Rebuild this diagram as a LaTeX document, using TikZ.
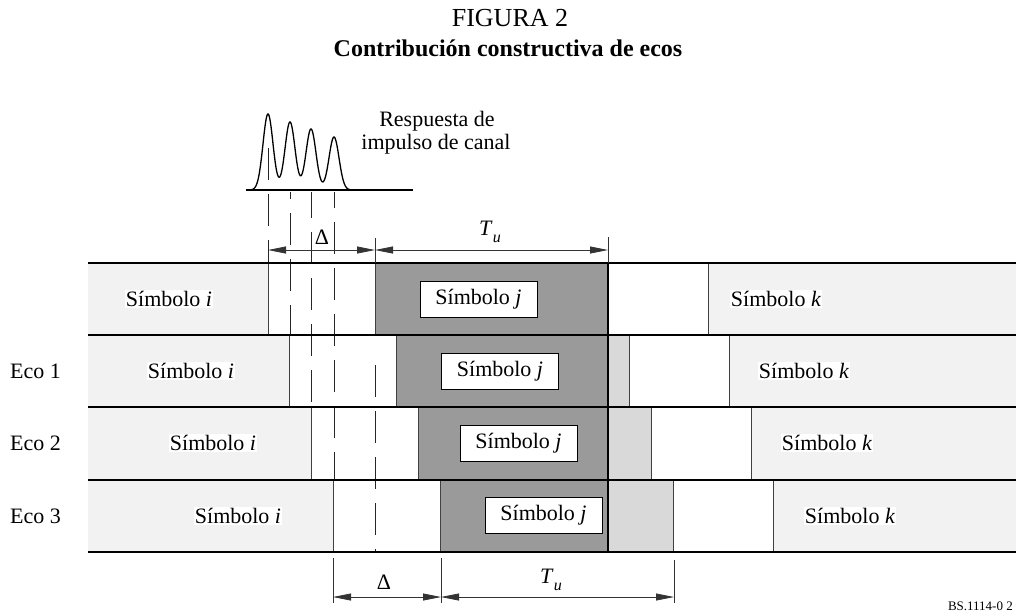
\documentclass[tikz,border=0pt]{standalone}
\usepackage{fontspec}
\setmainfont{Liberation Serif}
\usetikzlibrary{arrows.meta}
\definecolor{lg}{HTML}{F2F2F2}
\definecolor{mg}{HTML}{D9D9D9}
\definecolor{dg}{HTML}{9A9A9A}
\begin{document}
\begin{tikzpicture}[x=1pt,y=-1pt,
  txt/.style={font=\fontsize{22}{26}\selectfont, inner sep=1pt},
  hl/.style={txt, fill=white},
  jbox/.style={txt, draw=black, line width=0.8pt, fill=white, minimum width=117pt, minimum height=36pt},
  sepl/.style={draw=black!75, line width=0.9pt},
  rowline/.style={line width=1.6pt},
  dimline/.style={line width=0.8pt, draw=black!80, {Triangle[length=18pt,width=7pt]}-{Triangle[length=18pt,width=7pt]}},
  extl/.style={line width=0.8pt, draw=black!80},
  dsh/.style={line width=1pt, draw=black!85, dash pattern=on 32pt off 14pt},
]
\useasboundingbox (0,0) rectangle (1016,614);

% ---- rows of symbols
\foreach \t/\b/\s in {263/335/0, 335/407/21.7, 407/480/43.3, 480/552/65}{
  \pgfmathsetmacro\ga{268+\s}
  \pgfmathsetmacro\gb{375+\s}
  \pgfmathsetmacro\ma{608+\s}
  \pgfmathsetmacro\ka{708+\s}
  \fill[lg] (88,\t) rectangle (\ga,\b);
  \fill[white] (\ga,\t) rectangle (\gb,\b);
  \fill[dg] (\gb,\t) rectangle (608,\b);
  \fill[mg] (608,\t) rectangle (\ma,\b);
  \fill[white] (\ma,\t) rectangle (\ka,\b);
  \fill[lg] (\ka,\t) rectangle (1016,\b);
  \draw[sepl] (\ga,\t) -- (\ga,\b);
  \draw[sepl] (\gb,\t) -- (\gb,\b);
  \draw[sepl] (\ma,\t) -- (\ma,\b);
  \draw[sepl] (\ka,\t) -- (\ka,\b);
}
\draw[line width=1.2pt] (608,263) -- (608,552);

% ---- dashed projection lines
\draw[dsh] (268,148) -- (268,263);
\draw[dsh, dash phase=25pt] (290,192) -- (290,335);
\draw[dsh, dash phase=6pt] (311,192) -- (311,407);
\draw[dsh, dash phase=16pt] (334,192) -- (334,480);
\draw[dsh] (375,365) -- (375,552);

% ---- row boundary lines
\foreach \y in {263,335,407,480,552}{
  \draw[rowline] (88,\y) -- (1016,\y);
}

% ---- channel impulse response
\draw[line width=1.4pt] (246,190) -- (413,190);
\draw[line width=1.3pt] plot[domain=249:352, samples=260, smooth]
  (\x, {190 - 76*exp(max(-((\x-268)^2)/50,-9)) - 68*exp(max(-((\x-290)^2)/50,-9))
        - 61*exp(max(-((\x-311)^2)/50,-9)) - 53*exp(max(-((\x-334)^2)/50,-9))});
\node[txt, anchor=base] (resp1) at (437,126) {Respuesta de};
\node[txt, anchor=base] (resp2) at (436,149) {impulso de canal};

% ---- titles
\node[font=\fontsize{26}{30}\selectfont] (fig) at (510,18) {FIGURA 2};
\node[font=\fontsize{24}{28}\selectfont\bfseries] (title) at (508,48) {Contribución constructiva de ecos};

% ---- top dimensions
\coordinate (ta) at (268,250);
\coordinate (tb) at (375,250);
\coordinate (tc) at (608,250);
\draw[extl] (375,238) -- (375,263);
\draw[extl] (608,237) -- (608,263);
\draw[dimline] (ta) -- (tb);
\draw[dimline] (tb) -- (tc);
\node[txt] (dtop) at (322,237) {Δ};
\node[txt] (tutop) at (490,232) {\textit{T}\raisebox{-0.35em}{\fontsize{16}{16}\selectfont\textit{u}}};

% ---- bottom dimensions
\coordinate (ba) at (333,597);
\coordinate (bb) at (441,597);
\coordinate (bc) at (674,597);
\draw[extl] (333,558) -- (333,603);
\draw[extl] (441,558) -- (441,603);
\draw[extl] (674,560) -- (674,603);
\draw[dimline] (ba) -- (bb);
\draw[dimline] (bb) -- (bc);
\node[txt] (dbot) at (384,582) {Δ};
\node[txt] (tubot) at (551,580) {\textit{T}\raisebox{-0.35em}{\fontsize{16}{16}\selectfont\textit{u}}};

% ---- symbol labels
\node[hl] (i1) at (169,299) {Símbolo \textit{i}};
\node[hl] (i2) at (191,371) {Símbolo \textit{i}};
\node[hl] (i3) at (213,443) {Símbolo \textit{i}};
\node[hl] (i4) at (238,516) {Símbolo \textit{i}};
\node[jbox] (j1) at (478.5,299) {Símbolo \textit{j}};
\node[jbox] (j2) at (500,371) {Símbolo \textit{j}};
\node[jbox] (j3) at (518.5,443) {Símbolo \textit{j}};
\node[jbox] (j4) at (543.5,515.5) {Símbolo \textit{j}};
\node[hl] (k1) at (776,299) {Símbolo \textit{k}};
\node[hl] (k2) at (804,371) {Símbolo \textit{k}};
\node[hl] (k3) at (827,443) {Símbolo \textit{k}};
\node[hl] (k4) at (850,516) {Símbolo \textit{k}};

% ---- echo labels
\node[txt, anchor=west] (e1) at (9,371) {Eco 1};
\node[txt, anchor=west] (e2) at (9,443) {Eco 2};
\node[txt, anchor=west] (e3) at (9,516) {Eco 3};

\node[anchor=base east, font=\fontsize{13}{13}\selectfont, inner sep=0pt] (ref) at (1013,610) {BS.1114-0 2};
\end{tikzpicture}
\end{document}
